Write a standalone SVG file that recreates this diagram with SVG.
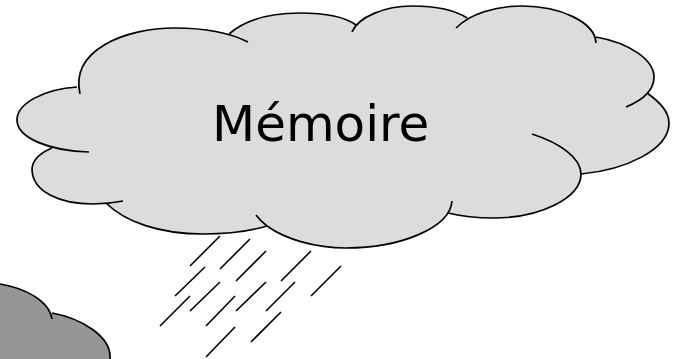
<svg xmlns="http://www.w3.org/2000/svg" width="679" height="359" viewBox="0 0 679 359">
<style>
.s{fill:none;stroke:#000;stroke-width:1.7;stroke-linecap:butt}
.r{fill:none;stroke:#000;stroke-width:1.6}
text{font-family:"DejaVu Sans",Verdana,sans-serif;font-size:50px;fill:#000}
</style>
<g id="small-cloud">
<path d="M0 284C22 287 47 301 51 313C78 318 112 335 110 359L0 359Z" fill="#969696"/>
<path class="s" d="M0 284C24 288 49 300 52 319"/>
<path class="s" d="M52 313C80 318 112 336 110 359"/>
</g>
<g id="memory-cloud">
<path d="M80 94C70 50 125 28 175 28C195 28 215 30 229 34C245 20 270 13 300 13C325 13 345 18 356 25C365 14 388 6 412 6C435 6 455 10 467 18C480 10 500 6 522 6C560 6 592 22 596 37C630 44 654 60 654 77C654 83 651 89 647 93C660 103 669 113 669 123C669 150 625 170 581 174C581 198 540 218 494 218C476 218 460 216 447 213C437 235 395 248 346 248C315 248 285 239 267 226C250 231 226 234 203 234C160 234 125 222 106 203C100 204 97 204 93 204C60 204 33 192 32 170C32 160 40 153 50 148C30 143 17 133 17 120C17 103 45 89 77 87Z" fill="#dcdcdc"/>
<path class="s" d="M80 94C70 50 125 28 175 28C202 28 228 32 248 42"/>
<path class="s" d="M229 34C245 20 270 13 300 13C325 13 345 17 356 25"/>
<path class="s" d="M352 32C358 17 385 6 412 6C435 6 455 10 467 18"/>
<path class="s" d="M456 28C470 14 495 6 522 6C560 6 595 22 596 43"/>
<path class="s" d="M596 37C630 43 654 60 654 77C654 90 643 100 626 107"/>
<path class="s" d="M647 93C660 102 669 113 669 123C669 150 625 170 581 174"/>
<path class="s" d="M532 134C560 143 581 158 581 174C581 198 540 218 494 218C476 218 460 216 448 213"/>
<path class="s" d="M452 201C450 228 400 248 346 248C315 248 285 239 267 226C263 223 259 219 256 215"/>
<path class="s" d="M267 226C250 231 226 234 203 234C160 234 125 222 106 203"/>
<path class="s" d="M123 201C113 203 105 204 93 204C60 204 33 192 32 170C32 160 40 153 52 148"/>
<path class="s" d="M89 152C50 151 17 138 17 120C17 103 45 89 77 87"/>
<text x="212" y="141">Mémoire</text>
</g>
<g id="rain">
<path class="r" d="M220 236L190 266M250 239L220 269M266 251L236 281M311 251L281 281M341 266L311 296M205 267L175 296M220 282L190 311M266 282L236 311M295 282L266 311M190 296L160 326M235 296L206 326M281 312L251 342M235 327L206 357"/>
</g>
</svg>
